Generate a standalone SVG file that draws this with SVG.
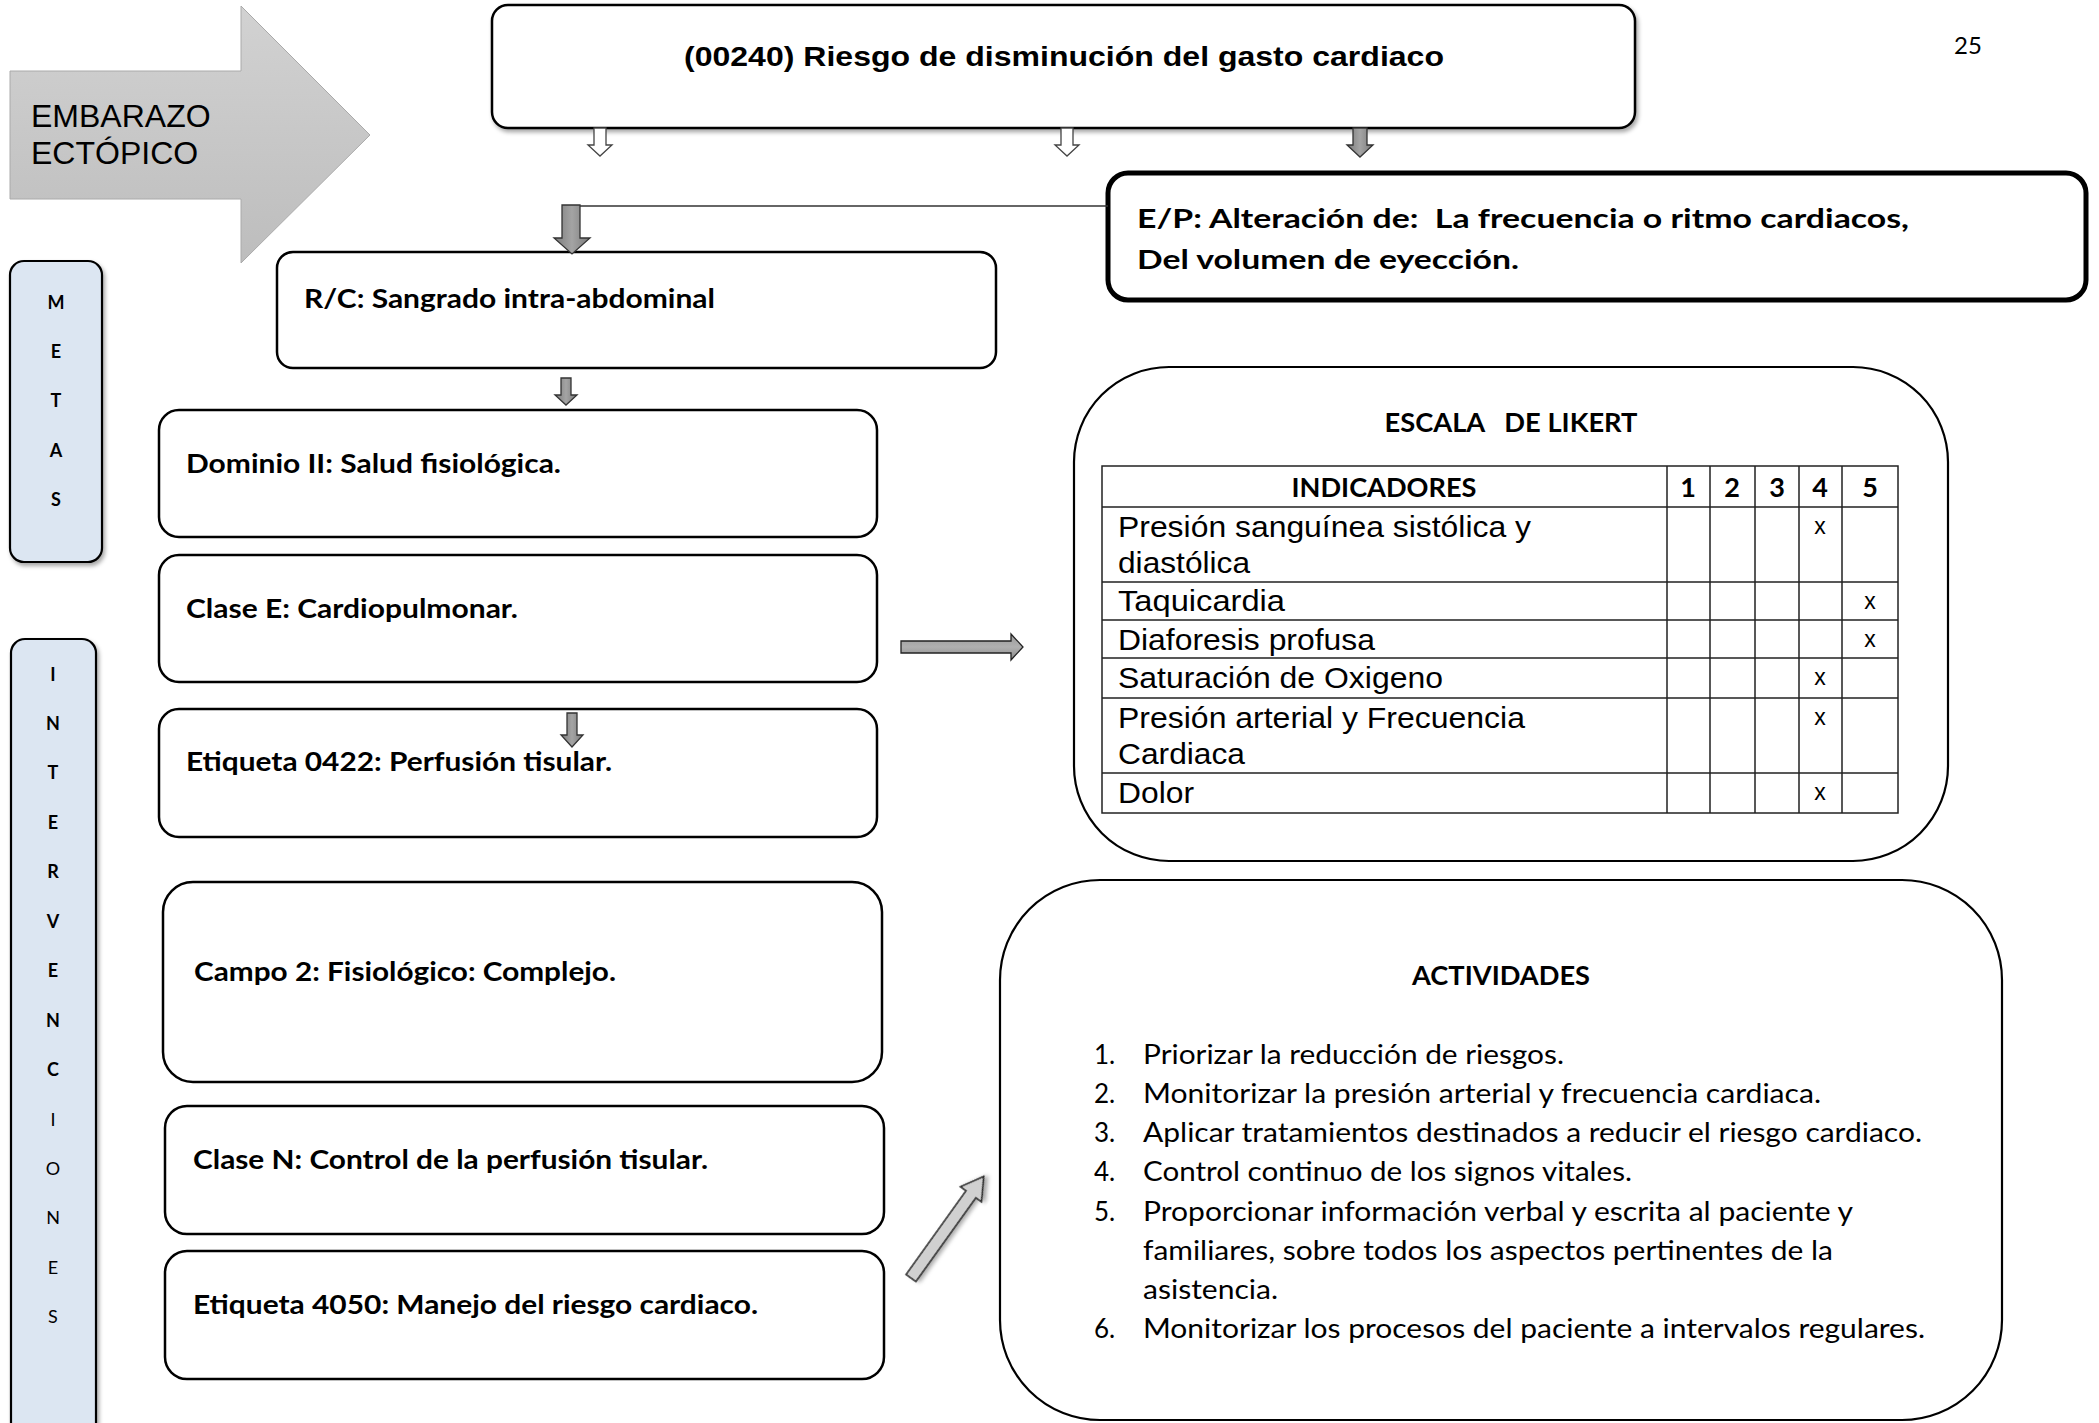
<svg xmlns="http://www.w3.org/2000/svg" width="2099" height="1423" viewBox="0 0 2099 1423">
<style>
.box{fill:#fff;stroke:#000;stroke-width:2.5}
.side{fill:#dce6f2;stroke:#000;stroke-width:2.2}
.cal{font-family:Lato,"Open Sans","Liberation Sans",sans-serif;fill:#000}
.ar{font-family:"Liberation Sans",Arial,sans-serif;fill:#000}
.b{font-weight:bold}
.lbl{font-size:27px;font-weight:bold}
.li{font-size:26px}
.row{font-size:29px}
.xm{font-size:23px;text-anchor:middle}
.let{font-size:18px;text-anchor:middle}
.grid{stroke:#222;stroke-width:1.5;fill:none}
.ga{fill:url(#gg);stroke:#333;stroke-width:1.3}
.wa{fill:#fff;stroke:#444;stroke-width:1.3}
</style>
<defs>
<linearGradient id="gg" x1="0" y1="0" x2="1" y2="0">
<stop offset="0" stop-color="#7a7a7a"/><stop offset="0.5" stop-color="#a4a4a4"/><stop offset="1" stop-color="#7a7a7a"/>
</linearGradient>
<linearGradient id="gh" x1="0" y1="0" x2="0" y2="1">
<stop offset="0" stop-color="#9a9a9a"/><stop offset="0.5" stop-color="#b0b0b0"/><stop offset="1" stop-color="#8a8a8a"/>
</linearGradient>
<linearGradient id="big" x1="0" y1="0" x2="0" y2="1">
<stop offset="0" stop-color="#d2d2d2"/><stop offset="1" stop-color="#bdbdbd"/>
</linearGradient>
<filter id="sh" x="-10%" y="-10%" width="130%" height="130%">
<feDropShadow dx="2" dy="3" stdDeviation="2" flood-color="#000" flood-opacity="0.35"/>
</filter>
</defs>

<g id="embarazo">
<polygon points="10,71 241,71 241,6 370,135 241,263 241,199 10,199" fill="url(#big)" stroke="#aaa" stroke-width="1"/>
<text class="ar" x="31" y="127" font-size="32" fill="#222">EMBARAZO</text>
<text class="ar" x="31" y="164" font-size="32" fill="#222">ECTÓPICO</text>
</g>

<text id="page" class="cal" x="1954" y="54" font-size="24">25</text>

<g id="diagnostico">
<rect class="box" x="492" y="5" width="1143" height="123" rx="16" filter="url(#sh)"/>
<text class="ar b" x="1064" y="66" font-size="28" text-anchor="middle" textLength="760" lengthAdjust="spacingAndGlyphs">(00240) Riesgo de disminución del gasto cardiaco</text>
</g>

<g id="ep">
<rect x="1108" y="173" width="978" height="127" rx="20" fill="#fff" stroke="#000" stroke-width="5"/>
<text class="cal lbl" x="1137" y="228" font-size="29" textLength="772" lengthAdjust="spacingAndGlyphs" style="white-space:pre">E/P: Alteración de:  La frecuencia o ritmo cardiacos,</text>
<text class="cal lbl" x="1137" y="269" font-size="29" textLength="382" lengthAdjust="spacingAndGlyphs">Del volumen de eyección.</text>
</g>

<g id="rc">
<rect class="box" x="277" y="252" width="719" height="116" rx="16"/>
<text class="cal lbl" x="304" y="308" textLength="411" lengthAdjust="spacingAndGlyphs">R/C: Sangrado intra-abdominal</text>
</g>

<g id="metas">
<rect class="side" x="10" y="261" width="92" height="301" rx="14" filter="url(#sh)"/>
<text class="cal b let" x="56" y="309">M</text>
<text class="cal b let" x="56" y="358">E</text>
<text class="cal b let" x="56" y="407">T</text>
<text class="cal b let" x="56" y="457">A</text>
<text class="cal b let" x="56" y="506">S</text>
</g>

<g id="intervenciones">
<rect class="side" x="11" y="639" width="85" height="820" rx="14" filter="url(#sh)"/>
<text class="cal b let" x="53" y="681">I</text>
<text class="cal b let" x="53" y="730">N</text>
<text class="cal b let" x="53" y="779">T</text>
<text class="cal b let" x="53" y="829">E</text>
<text class="cal b let" x="53" y="878">R</text>
<text class="cal b let" x="53" y="928">V</text>
<text class="cal b let" x="53" y="977">E</text>
<text class="cal b let" x="53" y="1027">N</text>
<text class="cal b let" x="53" y="1076">C</text>
<text class="cal let" x="53" y="1126">I</text>
<text class="cal let" x="53" y="1175">O</text>
<text class="cal let" x="53" y="1224">N</text>
<text class="cal let" x="53" y="1274">E</text>
<text class="cal let" x="53" y="1323">S</text>
</g>

<g id="dominio">
<rect class="box" x="159" y="410" width="718" height="127" rx="20"/>
<text class="cal lbl" x="186" y="473" textLength="375" lengthAdjust="spacingAndGlyphs">Dominio II: Salud fisiológica.</text>
</g>
<g id="claseE">
<rect class="box" x="159" y="555" width="718" height="127" rx="20"/>
<text class="cal lbl" x="186" y="618" textLength="332" lengthAdjust="spacingAndGlyphs">Clase E: Cardiopulmonar.</text>
</g>
<g id="etiqueta0422">
<rect class="box" x="159" y="709" width="718" height="128" rx="20"/>
<text class="cal lbl" x="186" y="771" textLength="426" lengthAdjust="spacingAndGlyphs">Etiqueta 0422: Perfusión tisular.</text>
</g>
<g id="campo2">
<rect class="box" x="163" y="882" width="719" height="200" rx="30"/>
<text class="cal lbl" x="194" y="981" textLength="422" lengthAdjust="spacingAndGlyphs">Campo 2: Fisiológico: Complejo.</text>
</g>
<g id="claseN">
<rect class="box" x="165" y="1106" width="719" height="128" rx="22"/>
<text class="cal lbl" x="193" y="1169" textLength="515" lengthAdjust="spacingAndGlyphs">Clase N: Control de la perfusión tisular.</text>
</g>
<g id="etiqueta4050">
<rect class="box" x="165" y="1251" width="719" height="128" rx="22"/>
<text class="cal lbl" x="193" y="1314" textLength="565" lengthAdjust="spacingAndGlyphs">Etiqueta 4050: Manejo del riesgo cardiaco.</text>
</g>

<g id="likert">
<rect class="box" x="1074" y="367" width="874" height="494" rx="95" style="stroke-width:2.2"/>
<text class="cal lbl" x="1511" y="432" text-anchor="middle" textLength="253" lengthAdjust="spacingAndGlyphs" style="white-space:pre">ESCALA   DE LIKERT</text>
<rect class="grid" x="1102" y="466" width="796" height="347"/>
<path class="grid" d="M1667,466V813M1710,466V813M1755,466V813M1799,466V813M1842,466V813M1102,507H1898M1102,582H1898M1102,620H1898M1102,658H1898M1102,698H1898M1102,773H1898"/>
<text class="cal lbl" x="1384" y="497" text-anchor="middle" textLength="185" lengthAdjust="spacingAndGlyphs">INDICADORES</text>
<text class="cal lbl" x="1688" y="497" text-anchor="middle">1</text>
<text class="cal lbl" x="1732" y="497" text-anchor="middle">2</text>
<text class="cal lbl" x="1777" y="497" text-anchor="middle">3</text>
<text class="cal lbl" x="1820" y="497" text-anchor="middle">4</text>
<text class="cal lbl" x="1870" y="497" text-anchor="middle">5</text>
<text class="ar row" x="1118" y="537" textLength="413" lengthAdjust="spacingAndGlyphs">Presión sanguínea sistólica y</text>
<text class="ar row" x="1118" y="573" textLength="132" lengthAdjust="spacingAndGlyphs">diastólica</text>
<text class="ar row" x="1118" y="611" textLength="167" lengthAdjust="spacingAndGlyphs">Taquicardia</text>
<text class="ar row" x="1118" y="650" textLength="257" lengthAdjust="spacingAndGlyphs">Diaforesis profusa</text>
<text class="ar row" x="1118" y="688" textLength="325" lengthAdjust="spacingAndGlyphs">Saturación de Oxigeno</text>
<text class="ar row" x="1118" y="728" textLength="407" lengthAdjust="spacingAndGlyphs">Presión arterial y Frecuencia</text>
<text class="ar row" x="1118" y="764" textLength="127" lengthAdjust="spacingAndGlyphs">Cardiaca</text>
<text class="ar row" x="1118" y="803" textLength="76" lengthAdjust="spacingAndGlyphs">Dolor</text>
<text class="ar xm" x="1820" y="534">x</text>
<text class="ar xm" x="1870" y="609">x</text>
<text class="ar xm" x="1870" y="647">x</text>
<text class="ar xm" x="1820" y="685">x</text>
<text class="ar xm" x="1820" y="725">x</text>
<text class="ar xm" x="1820" y="800">x</text>
</g>

<g id="actividades">
<rect class="box" x="1000" y="880" width="1002" height="540" rx="100" style="stroke-width:2.2"/>
<text class="cal lbl" x="1501" y="985" text-anchor="middle" textLength="178" lengthAdjust="spacingAndGlyphs">ACTIVIDADES</text>
<g class="cal li">
<text x="1094" y="1064">1.</text><text x="1143" y="1064" textLength="421" lengthAdjust="spacingAndGlyphs">Priorizar la reducción de riesgos.</text>
<text x="1094" y="1103">2.</text><text x="1143" y="1103" textLength="678" lengthAdjust="spacingAndGlyphs">Monitorizar la presión arterial y frecuencia cardiaca.</text>
<text x="1094" y="1142">3.</text><text x="1143" y="1142" textLength="779" lengthAdjust="spacingAndGlyphs">Aplicar tratamientos destinados a reducir el riesgo cardiaco.</text>
<text x="1094" y="1181">4.</text><text x="1143" y="1181" textLength="489" lengthAdjust="spacingAndGlyphs">Control continuo de los signos vitales.</text>
<text x="1094" y="1221">5.</text><text x="1143" y="1221" textLength="710" lengthAdjust="spacingAndGlyphs">Proporcionar información verbal y escrita al paciente y</text>
<text x="1143" y="1260" textLength="690" lengthAdjust="spacingAndGlyphs">familiares, sobre todos los aspectos pertinentes de la</text>
<text x="1143" y="1299" textLength="135" lengthAdjust="spacingAndGlyphs">asistencia.</text>
<text x="1094" y="1338">6.</text><text x="1143" y="1338" textLength="782" lengthAdjust="spacingAndGlyphs">Monitorizar los procesos del paciente a intervalos regulares.</text>
</g>
</g>

<g id="connectors">
<path class="wa" d="M594,128H606V145H612L600,156L588,145H594Z"/>
<path class="wa" d="M1061,128H1073V145H1079L1067,156L1055,145H1061Z"/>
<path class="ga" d="M1353,128H1367V145H1373L1360,157L1347,145H1353Z"/>
<line x1="1108" y1="206" x2="563" y2="206" stroke="#333" stroke-width="1.5"/>
<path class="ga" d="M562,205H580V238H590L572,254L554,238H562Z"/>
<path class="ga" d="M561,378H571V395H577L566,405L555,395H561Z"/>
<path class="ga" d="M567,713H577V735H583L572,747L561,735H567Z"/>
<path d="M901,641H1011V634L1023,647L1011,660V653H901Z" fill="url(#gh)" stroke="#222" stroke-width="1.3"/>
<path d="M0,-6H103V-13L125,0L103,13V6H0Z" transform="translate(911,1278) rotate(-54.4)" fill="#d0d0d0" stroke="#222" stroke-width="1.5" filter="url(#sh)"/>
</g>
</svg>
